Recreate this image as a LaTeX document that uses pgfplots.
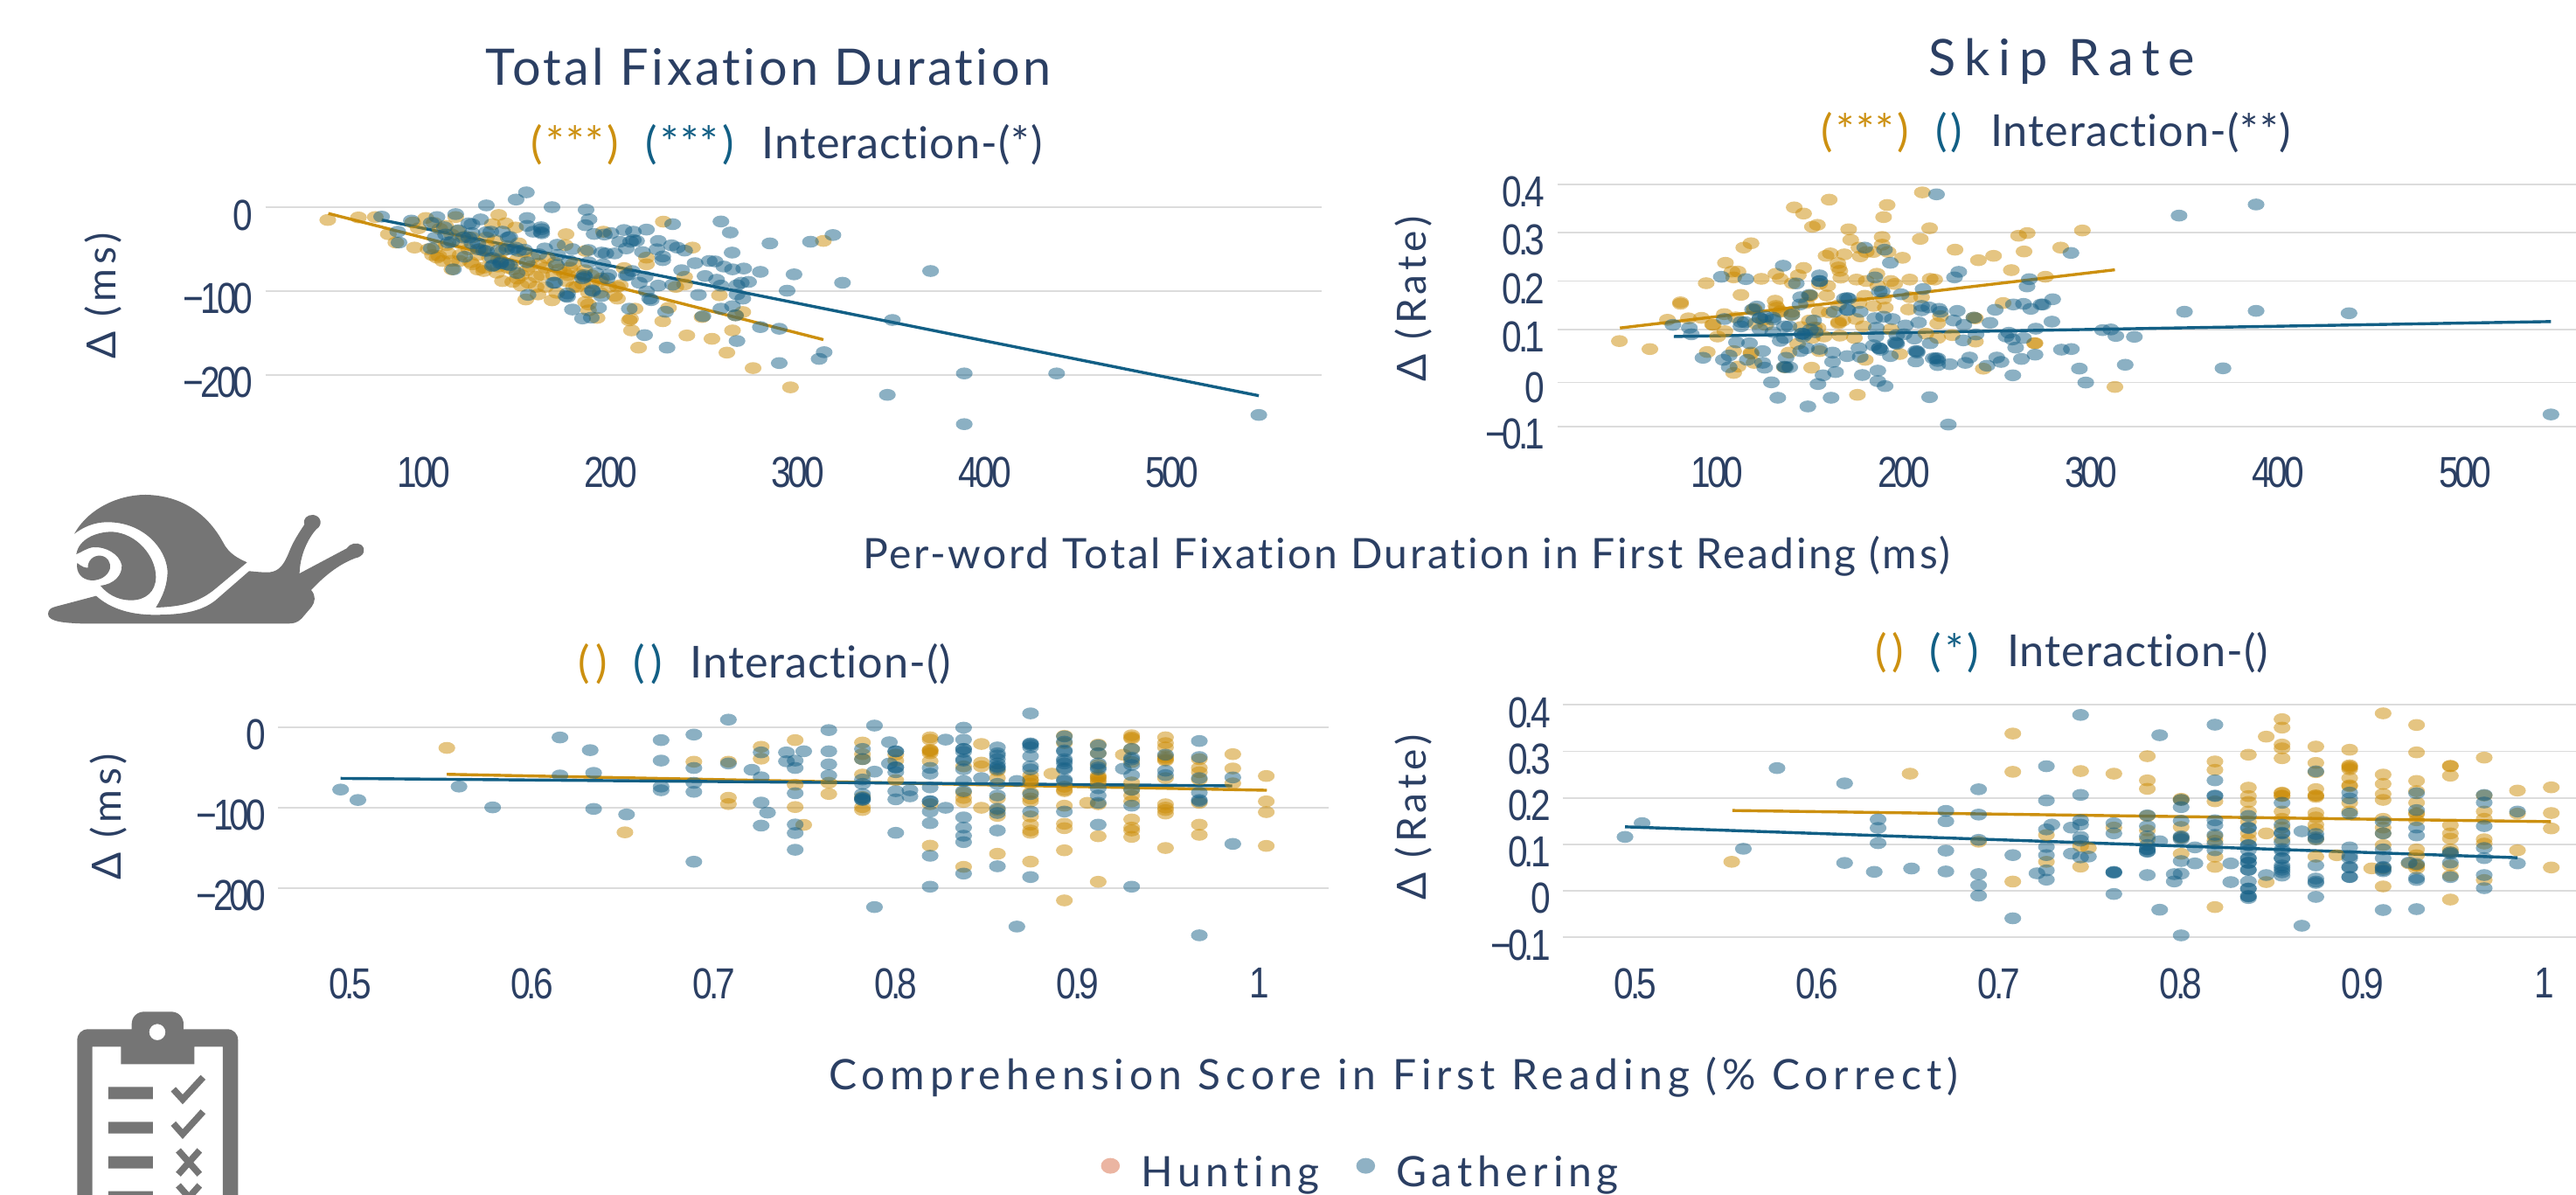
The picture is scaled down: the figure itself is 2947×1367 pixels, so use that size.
\documentclass[border=0pt]{standalone}
\usepackage{fontspec}
\usepackage{pgfplots}
\pgfplotsset{compat=1.18}
\setmainfont{Lato}
\newfontfamily\tickfont[FakeStretch=0.82,LetterSpace=-8]{Liberation Sans}
\newfontfamily\titlefont[LetterSpace=6,Ligatures=NoCommon]{Lato}
\newfontfamily\skipfont[LetterSpace=17,Ligatures=NoCommon]{Lato}
\newfontfamily\subfont[LetterSpace=2,Ligatures=NoCommon]{Lato}
\newfontfamily\labfont[LetterSpace=5.5,Ligatures=NoCommon]{Lato}
\newfontfamily\labwfont[LetterSpace=12.5,Ligatures=NoCommon]{Lato}
\newfontfamily\legfont[LetterSpace=12,Ligatures=NoCommon]{Lato}
\newfontfamily\ylabfont[LetterSpace=11,Ligatures=NoCommon]{Lato}
\definecolor{navy}{HTML}{2B3F63}
\definecolor{hunt}{HTML}{CB8B05}
\definecolor{gath}{HTML}{176187}
\definecolor{huntl}{HTML}{CC9010}
\definecolor{gathl}{HTML}{125F85}
\definecolor{legpink}{HTML}{EBB5A2}
\definecolor{leggath}{HTML}{8FB1C4}
\definecolor{icon}{HTML}{757575}
\definecolor{gridc}{HTML}{DCDCDC}
\pgfplotsset{
  panel/.style={scale only axis,clip=false,
    axis line style={draw=none},major tick length=0pt,
    ymajorgrids,xmajorgrids=false,grid style={gridc,line width=0.42pt},
    ticklabel style={font=\tickfont\fontsize{12.4}{13}\selectfont,text=navy},
    yticklabel style={yshift=-2.2pt},
    anchor=south west},
  hpts/.style={only marks,mark=*,mark size=1.7pt,mark options={xscale=1.41,draw opacity=0,line width=0pt,fill=hunt,fill opacity=0.5}},
  gpts/.style={only marks,mark=*,mark size=1.7pt,mark options={xscale=1.41,draw opacity=0,line width=0pt,fill=gath,fill opacity=0.5}},
  hline/.style={no marks,huntl,line width=0.85pt},
  gline/.style={no marks,gathl,line width=0.85pt},
}
\begin{document}
\begin{tikzpicture}[x=0.25pt,y=-0.25pt,color=navy]
\path[use as bounding box] (0,0) rectangle (2947,1367);
% ---------- panel 1
\begin{axis}[panel,at={(75.875pt,-122.5pt)},width=302.125pt,height=70pt,
  xmin=15.2,xmax=580,ymin=-264,ymax=28.5,
  xtick={100,200,300,400,500},xticklabels={100,200,300,400,500},ytick={-200,-100,0},
  yticklabels={−200,−100,0},xticklabel style={yshift=-4.6pt}]
\addplot[hpts] coordinates {(48.6,-15)(65,-12)(74,-11.5)(81,-32)(85,-42)(94,-18)(95,-48)(101,-12.6)(97,-25)(104.6,-57)(107,-60)(110,-64)(113,-55)(111.6,-22)(117,-11.5)(119,-64)(125,-65.5)(115,-74)(132,-76)(132,-72)(139,-78)(140,-9)(143.6,-19)(136.6,-20)(149,-24)(142,-88)(147.5,-89)(152,-93.4)(156,-90)(160,-83)(154.5,-110)(161,-104)(168.5,-111)(165,-95)(176,-32)(175.5,-45)(171,-102)(176,-88)(181.7,-95)(186.4,-52)(196,-29)(188,-116)(186.4,-113)(188,-123)(192.6,-132)(203.5,-109)(203.5,-95)(207,-72.5)(210.5,-133)(209.8,-135)(211,-147)(212.9,-121)(214.8,-167.6)(228,-17)(227.7,-136)(230.8,-120)(219,-60)(219,-68)(234.7,-95)(239.4,-83)(239.4,-92)(243.6,-48)(240.6,-153)(248.7,-131)(254,-157)(258,-105)(262,-173.5)(265,-147)(270.5,-125)(266.6,-129)(276,-192)(296,-215)(313.6,-40)
(105.4,-18.5)(108.5,-25.5)(114.8,-32.4)(119.4,-42.9)(124,-50)(125.7,-36)(128.8,-56.8)(133.4,-46.4)(138,-39.4)(141.2,-63.8)(144.3,-46.4)(150.6,-42.9)(153.7,-53.3)(156.8,-70.7)(161.5,-67.3)(166,-60.3)(169.3,-81)(172.4,-74.2)(177,-81)(180,-67.3)(184.8,-91.6)(189.5,-81)(194.2,-88)(198.9,-95)(202,-105.6)(147.5,-74.2)(152.1,-81)(133.4,-36)(119.4,-56.8)(114.8,-63.8)(102.3,-50)(128.8,-74.2)(139.7,-70.7)(163,-81)(180,-95)(188,-102)(194.2,-102)
(140,-62)(145,-72)(150,-62)(155,-75)(158,-60)(165,-72)(170,-66)(175,-78)(178,-72)(183,-80)(186,-75)(190,-90)(195,-85)(205,-93)(160,-95)(150,-85)(130,-50)(122,-35)(118,-28)(112,-45)(106,-48)(108,-58)(126,-68)(135,-60)(142,-52)};
\addplot[gpts] coordinates {(77.4,-11)(86,-29)(86.7,-42)(93.3,-15.7)(107,-11.5)(103.9,-18.5)(117,-8)(106,-36)(103.9,-49)(113,-42)(115.8,-74)(110.9,-23.7)(121.8,-59)(130.3,-14.3)(124,-19)(133.4,2.4)(149.3,9.4)(154.8,18)(155.2,-12.6)(168.5,0.3)(162.7,-23.7)(162.7,-29.6)(155.2,-22)(158.4,-29)(186.7,-2.8)(188.3,-14.3)(186.4,-21.3)(191,-31.7)(196.5,-32.4)(200,-30.7)(207,-27)(212,-29)(219,-26.5)(204.6,-41)(210.5,-41)(213.7,-40)(208.2,-49)(225.3,-40)(233,-20)(258.8,-16.8)(263.8,-30)(264.8,-54)(224.6,-50)(216.8,-53.3)(227.7,-58.6)(227.7,-63)(232.4,-45.3)(235.5,-48)(239.4,-51.6)(237.8,-75)(245,-66.6)(252.6,-64)(255.7,-64.5)(260.4,-70.7)(265,-74)(271,-73)(250.3,-82)(256.5,-86.4)(258.8,-93.4)(246.8,-104.5)(267.4,-93)(269.7,-90)(273.6,-89)(267.4,-104)(270.5,-109)(265,-118)(258.8,-121)(266.6,-129)(249.2,-130)(267.4,-159.6)(229.2,-124.7)(218,-152.6)(230,-167.6)(209.8,-121)(179.4,-122)(184.8,-132.7)(189.5,-131.7)(193.4,-120)(195,-106)(190.3,-100)(176.8,-102.8)(176.8,-107)(155.7,-104.5)(169.3,-90)(170.8,-69)(149.8,-78.4)(137.3,-69)(144.3,-68)(155.2,-65.5)(164.6,-49)(161.5,-56)(171.3,-44.6)(171.6,-56.8)(179.4,-49.8)(177.8,-63.8)(188,-50.9)(188,-65.5)(185.6,-81)(184.8,-84.7)(191.9,-78.4)(195,-54)(197.3,-55)(202,-55)(195.8,-68)(198.9,-80.5)(198,-84.7)(208.2,-81)(211.3,-76)(215.2,-90)(218.3,-83)(219,-100.3)(221.5,-110.8)(225.3,-93.4)(233,-92.3)(142,-29)(145.9,-35.2)(135.8,-29)(133.4,-29.6)(125.7,-30.7)(118.6,-27.2)(111.6,-32.4)(128.8,-43)(131.9,-51.6)(139.7,-51.6)(144.3,-50)(149,-48)(153.7,-50.5)(136.6,-60.3)(141.2,-65.5)(145.9,-69)(125.7,-43)(121,-36)
(163,-26)(163,-31)(145,-36)(147.5,-50)(150.6,-52)(141,-67)(136.6,-70)(125.7,-20)(114.8,-41)(212,-39)(209,-81)(190,-99)(176,-106)(170,-90)(186,-83)(220.7,-109)(129,-50)(133.4,-52)(124,-36)
(285,-43)(306.7,-41)(318.7,-33)(370.9,-76)(297.9,-80)(323.8,-90)(294.2,-99.5)(279.9,-77)(350.5,-134.5)(290,-145)(279.9,-143)(314,-173)(311.3,-181)(290,-186)(388.9,-198.4)(438.3,-198.4)(347.8,-224)(388.9,-259)(546.4,-248)};
\addplot[hline] coordinates {(48.9,-7.2)(313.6,-158)};
\addplot[gline] coordinates {(77.4,-15)(546.4,-225)};
\end{axis}
% ---------- panel 2
\begin{axis}[panel,at={(445.4pt,-123.75pt)},width=291.35pt,height=75pt,
  xmin=14.6,xmax=559.4,ymin=-0.1132,ymax=0.4283,
  xtick={100,200,300,400,500},xticklabels={100,200,300,400,500},ytick={-0.1,-0.0095,0.1,0.2,0.3,0.4},
  yticklabels={−0.1,\raisebox{1.7pt}{0},0.1,0.2,0.3,0.4},xticklabel style={yshift=-3.35pt}]
\addplot[hpts] coordinates {(47.8,0.076)(64.1,0.0595)(73.5,0.12)(80.5,0.156)(80.5,0.153)(84.7,0.123)(91.7,0.124)(94.2,0.1955)(97.6,0.11)(94.8,0.0535)(100.3,0.0854)(103.9,0.1317)(104.5,0.2376)(108,0.2195)(111.2,0.2195)(108.9,0.2075)(112.8,0.1714)(114.3,0.269)(118.2,0.278)(123.7,0.2045)(131.5,0.215)(133.8,0.2045)(131.1,0.1594)(141.3,0.352)(146.3,0.3393)(151,0.312)(153.7,0.316)(160,0.368)(170.4,0.3068)(171.5,0.285)(191,0.357)(189.1,0.332)(209.8,0.383)(213.7,0.309)(208.7,0.287)(188.3,0.291)(176.6,0.251)(175.9,0.269)(179.8,0.26)(183.7,0.26)(188.3,0.275)(191.5,0.26)(199.2,0.248)(158.3,0.252)(160.6,0.257)(168.1,0.255)(164.6,0.237)(165,0.228)(165.7,0.221)(166.2,0.207)(146.3,0.227)(143.5,0.212)(140.3,0.1955)(159.2,0.19)(158.7,0.17)(154.8,0.194)(174.6,0.203)(179.8,0.2)(185.5,0.215)(186,0.19)(193,0.2)(195,0.194)(203.1,0.203)(214,0.2045)(216.4,0.203)(227.3,0.2647)(239.8,0.243)(247.9,0.252)(261.3,0.2935)(265.9,0.299)(264.2,0.261)(257.4,0.2225)(253,0.1546)(238.2,0.123)(238.2,0.075)(242.4,0.019)(270.1,0.0715)(179.3,0.0373)(175.1,-0.035)(150.6,0.021)(108.9,0.0102)(111.2,0.0234)(108.9,0.0553)(118.2,0.0523)(119.8,0.031)(136.1,0.022)(138.5,0.0523)(143.1,0.0703)(154.8,0.0553)(197.7,0.0493)(218,0.1125)(219.5,0.1275)(202.4,0.1413)(203.1,0.1666)(209.4,0.1666)(183.7,0.1486)(189.1,0.1636)(179,0.1696)(175.9,0.1546)(174.3,0.1215)(178.2,0.1065)(165,0.1125)(167.3,0.1185)(154.8,0.1365)(154,0.1034)(149.4,0.1185)(150.9,0.0824)(157.2,0.0854)(165.7,0.0872)(173.5,0.0824)(193,0.1004)(211.7,0.0914)(218,0.0824)(225.7,0.0884)(237.4,0.1245)(131.5,0.1486)(133.8,0.1365)(119.8,0.1426)(126,0.1095)(120.5,0.1125)(104.2,0.0964)(98,0.1095)(149.4,0.1696)(147.8,0.1546)(140,0.1365)(295.4,0.3044)(283.8,0.269)(275.6,0.2088)(312.8,-0.0187)(269.8,0.0716)
(118.2,0.05)(165,0.115)(132,0.145)(120,0.14)(134,0.138)(152,0.104)(150,0.17)(165,0.15)(140,0.13)(125,0.12)(110,0.125)(145,0.105)(190,0.145)(160,0.135)};
\addplot[gpts] coordinates {(76.4,0.1095)(85.2,0.1034)(86.3,0.09)(92.5,0.0415)(102.3,0.2087)(115.4,0.204)(103.4,0.0373)(106.5,0.0463)(106.5,0.0222)(116.2,0.0373)(110.4,0.0733)(117.4,0.0715)(124.4,0.0553)(124.4,0.0312)(125.5,0.021)(129.1,-0.0091)(132.5,-0.041)(148.6,-0.059)(135.4,0.2316)(154.8,0.2117)(154.8,0.1997)(142.4,0.195)(179,0.269)(189.6,0.2647)(192.7,0.2376)(184.4,0.2075)(121.3,0.1473)(119,0.1413)(112.8,0.1155)(103.9,0.1215)(112.8,0.1064)(122.9,0.1233)(126,0.1263)(129.9,0.1245)(129.9,0.0944)(133.8,0.0764)(136.1,0.1064)(138.5,0.1064)(140,0.1305)(144.4,0.1516)(144.7,0.1666)(149.4,0.1714)(151.7,0.1185)(145.5,0.0914)(152.5,0.0944)(136.1,0.0824)(144.7,0.0553)(147.8,0.0613)(154.8,0.06)(161.8,0.0523)(169.6,0.045)(176.6,0.0433)(175.9,0.0613)(161.8,0.0331)(163.4,0.012)(156.7,0.0053)(154,-0.0127)(136.9,0.0415)(136.6,0.022)(138.9,0.022)(161,-0.041)(177.7,0.0059)(186,0.015)(186,-0.0067)(189.9,-0.017)(213.7,-0.0398)(223.7,-0.0964)(168.1,0.1636)(170.4,0.1636)(169.6,0.1407)(176.6,0.1365)(162.6,0.1365)(184.4,0.1233)(189.1,0.1263)(193.8,0.1215)(188.3,0.1786)(186.8,0.1786)(198.5,0.1726)(210.2,0.1834)(209.4,0.1486)(209.4,0.1395)(213.3,0.1456)(218.7,0.1426)(219.5,0.1365)(228.5,0.1383)(226.5,0.1185)(207.8,0.1143)(200.8,0.1083)(185.2,0.1034)(196.1,0.0884)(205.5,0.0812)(195.3,0.0733)(196.1,0.0703)(183.7,0.0673)(186.8,0.0613)(192.7,0.045)(206.3,0.0553)(207,0.0523)(206.3,0.034)(214,0.0715)(215.6,0.0403)(218,0.0403)(218,0.0264)(224.5,0.0282)(232.8,0.031)(235.1,0.042)(231.7,0.0775)(232,0.1095)(237.4,0.1245)(238.5,0.0896)(246,0.1137)(248.8,0.1407)(227,0.2075)(229.3,0.219)(244.4,0.0252)(249.6,0.042)(251.9,0.033)(258.2,0.0053)(256.1,0.0932)(254.6,0.0854)(259.7,0.0625)(258,0.0794)(263.9,0.0824)(262.8,0.0391)(270.1,0.048)(270.5,0.1016)(267.8,0.1426)(258.5,0.1516)(263.9,0.1528)(273.3,0.1516)(265.8,0.1888)(267,0.2039)
(145.5,0.0914)(147,0.09)(186.8,0.0613)(187.5,0.058)(195.8,0.072)(217,0.0403)(218,0.035)(207,0.055)(136,0.023)(123,0.123)(169.6,0.165)(146,0.085)(150,0.1)(170,0.14)(155,0.2)(123,0.1)(115,0.115)(130,0.12)(185,0.085)(200,0.09)
(289.3,0.258)(217.4,0.379)(347.1,0.3351)(388.3,0.358)(350,0.1366)(388.3,0.1384)(438,0.1335)(306.2,0.0986)(310.6,0.1)(313.3,0.0866)(323.2,0.0848)(284.2,0.0583)(289.5,0.0596)(318.3,0.0271)(293.8,0.0192)(297.2,-0.0096)(370.6,0.0198)(279.1,0.1161)(279.5,0.1624)(274.3,0.1516)(546,-0.0755)};
\addplot[hline] coordinates {(48.1,0.103)(312.8,0.2232)};
\addplot[gline] coordinates {(76.9,0.0854)(546,0.1163)};
\end{axis}
% ---------- panel 3
\begin{axis}[panel,at={(79.575pt,-268.75pt)},width=300.425pt,height=66.25pt,
  xmin=0.4605,xmax=1.038,ymin=-264.6,ymax=24,
  xtick={0.5,0.6,0.7,0.8,0.9,1},xticklabels={0.5,0.6,0.7,0.8,0.9,1},
  ytick={-200,-100,0},yticklabels={−200,−100,0},xticklabel style={yshift=-4.6pt},
  legend columns=2,
  legend style={draw=none,fill=none,at={(1.033,-1.01)},anchor=center,
    font=\legfont\fontsize{12}{13}\selectfont,text=navy,
    /tikz/every odd column/.append style={column sep=4pt},
    /tikz/every even column/.append style={column sep=8.5pt}}]
\addlegendimage{only marks,mark=*,mark size=2.25pt,mark options={xscale=1.2,yshift=2.25pt,draw opacity=0,line width=0pt,fill=legpink}}
\addlegendimage{only marks,mark=*,mark size=2.25pt,mark options={xscale=1.2,yshift=2.25pt,draw opacity=0,line width=0pt,fill=leggath}}
\addlegendentry{Hunting}
\addlegendentry{Gathering}
\addplot[hpts] coordinates {(0.7817,-18.9)(0.7817,-33.4)(0.7817,-39.6)(0.7817,-58.8)(0.7817,-86.8)(0.7817,-99.4)(0.7817,-103)(0.8,-34)(0.8,-41.4)(0.8,-65.7)(0.8189,-12.4)(0.8189,-15.3)(0.8189,-28.7)(0.8189,-32.3)(0.8189,-42.1)(0.8189,-95.8)(0.8189,-147.4)(0.8373,-48.6)(0.8373,-92.9)(0.8373,-173.8)(0.8373,-81.3)(0.8471,-20.7)(0.8471,-43.9)(0.8471,-48.6)(0.8471,-100.2)(0.8559,-54)(0.8559,-63.2)(0.8559,-88.6)(0.8559,-103)(0.8559,-110.3)(0.8559,-157.5)(0.8741,-65)(0.8741,-88.6)(0.8741,-81.3)(0.8741,-92.2)(0.8741,-111)(0.8741,-121.2)(0.8741,-128.5)(0.8741,-131.4)(0.8741,-167.3)(0.8858,-57.7)(0.8927,-10.5)(0.8927,-19.6)(0.8927,-74)(0.8927,-79.5)(0.8927,-97.6)(0.8927,-120.1)(0.8927,-125.6)(0.8927,-153.2)(0.8927,-215.6)(0.9054,-94)(0.9113,-21.4)(0.9113,-32.3)(0.9113,-46.8)(0.9113,-63.2)(0.9113,-68.6)(0.9113,-95.8)(0.9113,-135.7)(0.9113,-192.4)(0.9251,-34.1)(0.9297,-9.8)(0.9297,-12.4)(0.9297,-26.9)(0.9297,-43.2)(0.9297,-68.6)(0.9297,-77.7)(0.9297,-84.9)(0.9297,-92.2)(0.9297,-114.7)(0.9297,-124.9)(0.9297,-128.5)(0.9297,-136.5)(0.9483,-12.4)(0.9483,-19.6)(0.9483,-25)(0.9483,-35.9)(0.9483,-41.4)(0.9483,-63.2)(0.9483,-95.8)(0.9483,-103)(0.9483,-107.4)(0.9483,-150.3)(0.9669,-39.6)(0.9669,-50.5)(0.9669,-55.9)(0.9669,-65)(0.9669,-94)(0.9669,-121.2)(0.9669,-133.9)(0.9853,-33.4)(0.9853,-51.2)(0.9853,-69.7)(1.0037,-60.6)(1.0037,-92.2)(1.0037,-105.6)(1.0037,-147.7)
(0.8189,-28)(0.8189,-30)(0.8741,-60)(0.8741,-66)(0.8741,-70)(0.9113,-60)(0.9113,-62)(0.9113,-66)(0.9297,-14)(0.9483,-38)(0.9483,-40)(0.9483,-100)(0.8927,-78)(0.8373,-88)
(0.5532,-25.6)(0.6511,-130.8)(0.689,-42.8)(0.708,-42.8)(0.708,-87.7)(0.708,-95.6)(0.726,-24.2)(0.726,-39)(0.7447,-15.9)(0.7447,-99.3)(0.7494,-121.5)(0.7632,-83)(0.7632,-69)(0.7447,-71.5)};
\addplot[gpts] coordinates {(0.7817,-26.9)(0.7817,-39.6)(0.7817,-65)(0.7817,-70.4)(0.7817,-83.1)(0.7817,-88.6)(0.7817,-90.4)(0.7883,2.2)(0.7883,-55.2)(0.7883,-223.9)(0.7965,-18.5)(0.7965,-45)(0.8,-29.8)(0.8,-49.7)(0.8,-55.9)(0.8,-79.5)(0.8,-89.7)(0.8,-131.4)(0.8078,-78.4)(0.8078,-86)(0.8189,-50.5)(0.8189,-57.7)(0.8189,-74.8)(0.8189,-92.2)(0.8189,-104.9)(0.8189,-119.4)(0.8189,-160)(0.8189,-198.5)(0.8274,-15.3)(0.8274,-100.2)(0.8373,-0.4)(0.8373,-15.3)(0.8373,-26.9)(0.8373,-30.5)(0.8373,-41.4)(0.8373,-52.3)(0.8373,-66.8)(0.8373,-79.5)(0.8373,-112.2)(0.8373,-124.9)(0.8373,-135)(0.8373,-143)(0.8373,-182.2)(0.8471,-63.2)(0.8559,-25)(0.8559,-32.3)(0.8559,-39.6)(0.8559,-48.6)(0.8559,-52.3)(0.8559,-70.4)(0.8559,-84.9)(0.8559,-101.3)(0.8559,-106.7)(0.8559,-128.5)(0.8559,-173.1)(0.8666,-66.8)(0.8666,-248.2)(0.8741,17.4)(0.8741,-20.7)(0.8741,-35.9)(0.8741,-48.6)(0.8741,-52.3)(0.8741,-83.1)(0.8741,-104.9)(0.8741,-186.5)(0.8927,-11.3)(0.8927,-17.8)(0.8927,-28.7)(0.8927,-39.6)(0.8927,-50.5)(0.8927,-66.8)(0.8927,-104.9)(0.9113,-22.5)(0.9113,-32.3)(0.9113,-52.3)(0.9113,-75.9)(0.9113,-84.9)(0.9113,-94)(0.9113,-121.2)(0.9297,-26.9)(0.9297,-37.8)(0.9297,-46.8)(0.9297,-59.5)(0.9297,-77.7)(0.9297,-97.6)(0.9297,-198.5)(0.9251,-51.5)(0.9483,-34.1)(0.9483,-54)(0.9483,-59.5)(0.9669,-17)(0.9669,-37)(0.9669,-63.2)(0.9669,-81.3)(0.9669,-90.4)(0.9669,-259.1)(0.9853,-62.4)(0.9853,-145.2)
(0.8,-30)(0.8,-50)(0.7817,-88)(0.7817,-90)(0.8189,-92)(0.8373,-27)(0.8373,-40)(0.8559,-35)(0.8559,-45)(0.8559,-50)(0.8741,-20)(0.8741,-22)(0.8741,-25)(0.8927,-30)(0.8927,-42)(0.8927,-45)(0.8927,-52)(0.8927,-65)(0.9113,-50)(0.9113,-45)(0.9297,-40)(0.9669,-92)
(0.4948,-77.5)(0.5043,-90.5)(0.5599,-73.8)(0.5784,-99.7)(0.6154,-12.6)(0.6154,-59.9)(0.632,-28.4)(0.6339,-56.7)(0.6339,-101.6)(0.652,-108.5)(0.671,-15.9)(0.671,-41.4)(0.671,-73.8)(0.671,-78.4)(0.689,-9)(0.689,-50.6)(0.689,-69.1)(0.689,-80.3)(0.689,-167.4)(0.708,9.6)(0.708,-45)(0.7209,-52.9)(0.726,-31.2)(0.726,-62.2)(0.726,-93.7)(0.7295,-106.2)(0.726,-122.4)(0.7399,-31.2)(0.7399,-42.3)(0.7494,-29.8)(0.7447,-41.4)(0.7447,-50.6)(0.7447,-82.1)(0.7447,-121)(0.7447,-131.7)(0.7447,-152.5)(0.7632,-3.4)(0.7632,-29.8)(0.7632,-46)(0.7632,-59.9)};
\addplot[hline] coordinates {(0.5532,-58.5)(1.004,-78.4)};
\addplot[gline] coordinates {(0.4948,-63.6)(0.985,-72.9)};
\end{axis}
% ---------- panel 4
\begin{axis}[panel,at={(446.975pt,-270pt)},width=289.775pt,height=72.5pt,
  xmin=0.4602,xmax=1.0175,ymin=-0.1145,ymax=0.4306,
  xtick={0.5,0.6,0.7,0.8,0.9,1},xticklabels={0.5,0.6,0.7,0.8,0.9,1},
  ytick={-0.1,0,0.1,0.2,0.3,0.4},yticklabels={−0.1,0,0.1,0.2,0.3,0.4},xticklabel style={yshift=-3.35pt}]
\addplot[hpts] coordinates {(0.7633,0.252)(0.7633,0.1361)(0.7817,0.2896)(0.7817,0.2376)(0.7817,0.2194)(0.7817,0.1612)(0.7817,0.13)(0.7817,0.111)(0.8003,0.1956)(0.8003,0.1374)(0.8003,0.0797)(0.8003,0.1142)(0.8189,0.2783)(0.8189,0.2602)(0.8189,0.1925)(0.8189,0.1173)(0.8189,0.0735)(0.8189,0.0515)(0.8189,-0.0349)(0.8189,0.1079)(0.8373,0.2928)(0.8373,0.222)(0.8373,0.2038)(0.8373,0.1913)(0.8373,0.1706)(0.8373,0.1486)(0.8373,0.1236)(0.8373,0.111)(0.8471,0.3316)(0.8471,0.1236)(0.8471,0.0189)(0.8558,0.3692)(0.8558,0.351)(0.8558,0.3147)(0.8558,0.3065)(0.8558,0.2852)(0.8558,0.2113)(0.8558,0.2038)(0.8558,0.1706)(0.8558,0.1549)(0.8558,0.1361)(0.8558,0.111)(0.8744,0.3103)(0.8744,0.2752)(0.8744,0.2552)(0.8744,0.2188)(0.8744,0.205)(0.8744,0.2019)(0.8744,0.1674)(0.8744,0.158)(0.8744,0.1424)(0.8744,0.133)(0.8744,0.111)(0.8744,0.0735)(0.8859,0.0766)(0.893,0.3034)(0.893,0.2677)(0.893,0.2614)(0.893,0.2426)(0.893,0.227)(0.893,0.1894)(0.893,0.1706)(0.9051,0.0484)(0.9114,0.3817)(0.9114,0.2501)(0.9114,0.23)(0.9114,0.2082)(0.9114,0.1956)(0.9114,0.1549)(0.9114,0.1361)(0.9114,0.1236)(0.9114,0.0985)(0.9114,0.0484)(0.9114,0.0095)(0.9257,0.059)(0.9298,0.3567)(0.9298,0.2978)(0.9298,0.2364)(0.9298,0.2144)(0.9298,0.1894)(0.9298,0.1674)(0.9298,0.1518)(0.9298,0.0891)(0.9298,0.0766)(0.9298,0.0547)(0.9298,0.0484)(0.9484,0.269)(0.9484,0.2476)(0.9484,0.1411)(0.9484,0.1236)(0.9484,0.1123)(0.9484,0.0891)(0.9484,0.0828)(0.9484,0.0547)(0.9484,0.0327)(0.9484,-0.0187)(0.967,0.2865)(0.967,0.205)(0.967,0.1706)(0.967,0.1549)(0.967,0.111)(0.967,0.1017)(0.967,0.0233)(0.9853,0.2157)(0.9853,0.1662)(0.9853,0.0872)(1.0039,0.2226)(1.0039,0.1674)(1.0039,0.1342)(1.0039,0.0503)
(0.8558,0.21)(0.8558,0.205)(0.8744,0.205)(0.893,0.27)(0.893,0.265)(0.893,0.225)(0.8003,0.198)(0.9484,0.268)(0.9298,0.165)(0.9298,0.055)
(0.5531,0.0625)(0.6512,0.252)(0.6889,0.1057)(0.7077,0.3383)(0.7077,0.256)(0.7077,0.02)(0.7262,0.12)(0.7262,0.0625)(0.745,0.2576)(0.745,0.0961)(0.7493,0.092)(0.745,0.0521)};
\addplot[gpts] coordinates {(0.7633,0.1455)(0.7633,0.1236)(0.7633,0.0409)(0.7633,0.039)(0.7633,-0.0067)(0.7817,0.1624)(0.7817,0.1392)(0.7817,0.1173)(0.7817,0.0985)(0.7817,0.0891)(0.7817,0.0841)(0.7817,0.034)(0.7885,0.3347)(0.7885,0.1067)(0.7885,-0.0406)(0.8003,0.1956)(0.8003,0.18)(0.8003,0.1505)(0.8003,0.1173)(0.8003,0.111)(0.8003,0.0641)(0.8003,0.0371)(0.8003,-0.0957)(0.7965,0.0359)(0.7965,0.0202)(0.8079,0.0935)(0.8079,0.059)(0.8189,0.3573)(0.8189,0.2376)(0.8189,0.2038)(0.8189,0.1518)(0.8189,0.1411)(0.8189,0.1205)(0.8189,0.1017)(0.8189,0.0872)(0.8276,0.059)(0.8276,0.0189)(0.8373,0.1612)(0.8373,0.1361)(0.8373,0.0985)(0.8373,0.0872)(0.8373,0.0703)(0.8373,0.0609)(0.8373,0.0453)(0.8373,0.0202)(0.8373,0.0045)(0.8373,-0.0111)(0.8373,-0.0155)(0.8471,0.034)(0.8558,0.1894)(0.8558,0.1424)(0.8558,0.1236)(0.8558,0.1048)(0.8558,0.086)(0.8558,0.0703)(0.8558,0.0547)(0.8558,0.0453)(0.8558,0.0327)(0.8667,0.128)(0.8667,-0.075)(0.8744,0.257)(0.8744,0.1223)(0.8744,0.111)(0.8744,0.0547)(0.8744,0.0265)(0.8744,0.0171)(0.8744,-0.013)(0.893,0.2113)(0.893,0.1988)(0.893,0.1662)(0.893,0.0935)(0.893,0.0703)(0.893,0.0515)(0.893,0.0296)(0.9114,0.1486)(0.9114,0.1236)(0.9114,0.0891)(0.9114,0.0703)(0.9114,0.0515)(0.9114,0.0421)(0.9114,-0.0412)(0.9257,0.0609)(0.9298,0.21)(0.9298,0.1737)(0.9298,0.1361)(0.9298,0.1192)(0.9298,0.0578)(0.9298,0.0233)(0.9298,-0.0393)(0.9484,0.0828)(0.9484,0.0609)(0.9484,0.0296)(0.967,0.2063)(0.967,0.1392)(0.967,0.0922)(0.967,0.0703)(0.967,0.034)(0.967,0.0058)(0.9853,0.1706)(0.9853,0.059)
(0.8373,0.135)(0.8373,0.098)(0.8373,0.07)(0.8373,0.06)(0.8373,0.045)(0.8373,0.005)(0.8373,-0.012)(0.8558,0.125)(0.8558,0.09)(0.8558,0.07)(0.8558,0.05)(0.8558,0.04)(0.8744,0.02)(0.8744,0.115)(0.893,0.075)(0.893,0.05)(0.893,0.03)(0.7817,0.09)(0.7817,0.085)(0.8003,0.115)(0.8189,0.205)(0.9114,0.05)(0.9114,0.045)(0.9298,0.028)(0.7633,0.04)(0.9484,0.08)(0.967,0.19)
(0.4944,0.116)(0.5038,0.1457)(0.5595,0.0905)(0.578,0.264)(0.6152,0.2312)(0.6152,0.0601)(0.6336,0.1536)(0.6336,0.1353)(0.6336,0.1025)(0.6315,0.0409)(0.652,0.0481)(0.6709,0.172)(0.6709,0.1497)(0.6709,0.0865)(0.6709,0.0417)(0.6889,0.2184)(0.6889,0.164)(0.6889,0.1097)(0.6889,0.0361)(0.6889,0.0121)(0.6889,-0.0103)(0.7077,0.0769)(0.7077,-0.059)(0.721,0.0377)(0.7262,0.268)(0.7262,0.1944)(0.7262,0.1321)(0.7292,0.1425)(0.7262,0.0945)(0.7262,0.0769)(0.7262,0.0441)(0.7262,0.0241)(0.7399,0.136)(0.7399,0.08)(0.745,0.3783)(0.745,0.2064)(0.745,0.152)(0.745,0.1425)(0.745,0.116)(0.745,0.108)(0.745,0.072)(0.7493,0.0737)};
\addplot[hline] coordinates {(0.5535,0.1728)(1.0037,0.1488)};
\addplot[gline] coordinates {(0.4944,0.1377)(0.9853,0.0713)};
\end{axis}
% ---------- texts
\node[text=navy,font=\titlefont\fontsize{14.4}{16}\selectfont] at (879,77) {Total Fixation Duration};
\node[text=navy,font=\skipfont\fontsize{14.4}{16}\selectfont] at (2359,70) {Skip Rate};
\node[text=navy,font=\subfont\fontsize{12.6}{14}\selectfont] at (900,166) {\textcolor{huntl}{(\kern1pt***\kern1pt)}\hspace{7.5pt}\textcolor{gathl}{(\kern1pt***\kern1pt)}\hspace{8pt}Interaction-(*)};
\node[text=navy,font=\subfont\fontsize{12.6}{14}\selectfont] at (2352,152) {\textcolor{huntl}{(\kern1pt***\kern1pt)}\hspace{7.5pt}\textcolor{gathl}{(\kern1pt)}\hspace{8pt}Interaction-(**)};
\node[text=navy,font=\subfont\fontsize{12.6}{14}\selectfont] at (875,760) {\textcolor{huntl}{(\kern1.5pt)}\hspace{7.5pt}\textcolor{gathl}{(\kern1.5pt)}\hspace{8pt}Interaction-()};
\node[text=navy,font=\subfont\fontsize{12.6}{14}\selectfont] at (2370,747) {\textcolor{huntl}{(\kern1.5pt)}\hspace{7.5pt}\textcolor{gathl}{(\kern1pt*\kern1pt)}\hspace{8pt}Interaction-()};
\node[text=navy,font=\labfont\fontsize{12}{14}\selectfont] at (1609,636) {Per-word Total Fixation Duration in First Reading (ms)};
\node[text=navy,font=\labwfont\fontsize{12}{14}\selectfont] at (1594,1232) {Comprehension Score in First Reading (\% Correct)};
\node[text=navy,rotate=90,font=\ylabfont\fontsize{11.5}{13}\selectfont] at (118,338) {Δ (ms)};
\node[text=navy,rotate=90,font=\ylabfont\fontsize{11.5}{13}\selectfont] at (1617,342) {Δ (Rate)};
\node[text=navy,rotate=90,font=\ylabfont\fontsize{11.5}{13}\selectfont] at (124,934) {Δ (ms)};
\node[text=navy,rotate=90,font=\ylabfont\fontsize{11.5}{13}\selectfont] at (1617,935) {Δ (Rate)};
% ---------- snail icon
\begin{scope}[x=0.08333pt,y=-0.08333pt,shift={(0pt,-135pt)}]
\fill[icon] (165,488) .. controls (165,472) and (175,466) .. (190,462) -- (330,425)
 .. controls (380,470) and (450,490) .. (530,490) .. controls (620,490) and (690,480) .. (740,440)
 -- (855,340) .. controls (880,342) and (900,345) .. (925,344) .. controls (960,340) and (975,315) .. (990,280)
 .. controls (1005,240) and (1025,210) .. (1045,180) .. controls (1038,160) and (1055,146) .. (1075,147)
 .. controls (1100,150) and (1112,180) .. (1085,197) .. controls (1060,225) and (1030,280) .. (1028,348)
 -- (1190,262) .. controls (1200,245) and (1225,240) .. (1240,250) .. controls (1258,265) and (1250,290) .. (1218,296)
 .. controls (1160,318) and (1110,360) .. (1068,405) .. controls (1085,425) and (1082,445) .. (1070,462)
 -- (1035,503) .. controls (1020,518) and (1005,520) .. (990,520) -- (280,520) .. controls (230,518) and (165,515) .. (165,488) -- cycle;
\fill[icon] (255,212) .. controls (300,130) and (400,78) .. (500,78) .. controls (620,80) and (710,140) .. (765,240)
 .. controls (785,280) and (815,295) .. (848,310) -- (740,400) .. controls (680,450) and (620,462) .. (535,465)
 .. controls (560,425) and (575,385) .. (575,340) .. controls (570,260) and (490,172) .. (370,172) .. controls (320,172) and (285,190) .. (255,212) -- cycle;
\fill[icon] (262,282) .. controls (270,230) and (330,205) .. (385,205) .. controls (470,210) and (535,290) .. (535,360)
 .. controls (535,410) and (500,440) .. (450,440) .. controls (400,440) and (365,415) .. (345,390)
 .. controls (390,385) and (420,355) .. (418,320) .. controls (410,280) and (360,255) .. (320,258) .. controls (295,262) and (280,275) .. (262,282) -- cycle;
\fill[icon] (265,312) .. controls (280,325) and (295,330) .. (302,328) .. controls (300,305) and (320,285) .. (345,287)
 .. controls (370,290) and (380,310) .. (378,330) .. controls (370,360) and (340,372) .. (315,372) .. controls (280,370) and (260,345) .. (265,312) -- cycle;
\end{scope}
% ---------- clipboard icon
\begin{scope}
\clip (0,0) rectangle (2947,1367);
\begin{scope}[x=0.08333pt,y=-0.08333pt,shift={(15pt,-285pt)}]
\fill[icon,even odd rule] (85,900) -- (85,150) .. controls (85,128) and (100,112) .. (123,112) -- (272,112) -- (272,95)
 .. controls (272,70) and (290,52) .. (315,52) -- (407,52) .. controls (432,52) and (450,70) .. (450,95) -- (450,112) -- (600,112)
 .. controls (622,112) and (637,128) .. (637,150) -- (637,900) -- cycle
 (137,172) -- (235,172) -- (235,232) -- (487,232) -- (487,172) -- (585,172) -- (585,900) -- (137,900) -- cycle
 (360,122) circle[radius=28];
\fill[icon] (192,310) rectangle (345,352) (192,430) rectangle (345,470) (192,548) rectangle (345,590) (192,668) rectangle (345,710);
\draw[icon,line width=1.9pt] (415,318) -- (447,353) -- (517,277) (415,436) -- (447,472) -- (517,395);
\draw[icon,line width=1.9pt] (432,528) -- (505,610) (505,528) -- (432,610) (432,648) -- (505,730) (505,648) -- (432,730);
\end{scope}
\end{scope}
\end{tikzpicture}
\end{document}
